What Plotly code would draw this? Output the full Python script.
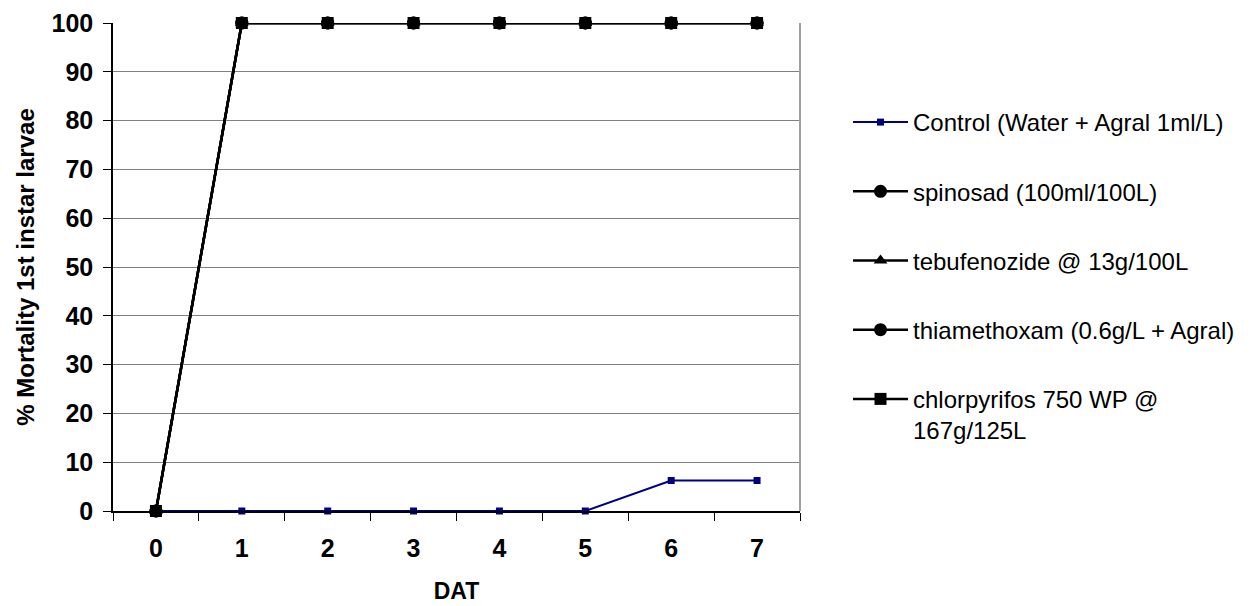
import plotly.graph_objects as go

# Days after treatment
dat = ["0", "1", "2", "3", "4", "5", "6", "7"]

# % mortality of 1st instar larvae per treatment
control = [0, 0, 0, 0, 0, 0, 6.25, 6.25]
spinosad = [0, 100, 100, 100, 100, 100, 100, 100]
tebufenozide = [0, 100, 100, 100, 100, 100, 100, 100]
thiamethoxam = [0, 100, 100, 100, 100, 100, 100, 100]
chlorpyrifos = [0, 100, 100, 100, 100, 100, 100, 100]

names = [
    "Control (Water + Agral 1ml/L)",
    "spinosad (100ml/100L)",
    "tebufenozide @ 13g/100L",
    "thiamethoxam (0.6g/L + Agral)",
    "chlorpyrifos 750 WP @<br>167g/125L",
]

W, H = 1256, 606
L, R, T, B = 113, 800, 23, 511
FONT = "Liberation Sans, Arial, sans-serif"

fig = go.Figure()

series = [
    (control, "#000080", "square", 7, 2),
    (spinosad, "#000000", "circle", 13, 2.5),
    (tebufenozide, "#000000", "triangle-up", 12, 2.5),
    (thiamethoxam, "#000000", "circle", 13, 2.5),
    (chlorpyrifos, "#000000", "square", 12, 2.5),
]

for i, (vals, col, sym, size, lw) in enumerate(series):
    fig.add_trace(go.Scatter(
        x=dat, y=vals, name=names[i], mode="lines+markers",
        line=dict(color=col, width=lw),
        marker=dict(symbol=sym, size=size, color=col, line=dict(width=0)),
        cliponaxis=False, legendgroup=f"g{i}",
    ))

legend_top_px = 100
fig.update_layout(
    width=W, height=H,
    margin=dict(l=L, r=W - R, t=T, b=H - B, autoexpand=False),
    paper_bgcolor="white", plot_bgcolor="white",
    font=dict(family=FONT, color="black"),
    showlegend=True,
    legend=dict(
        x=(848 - L) / (R - L), y=1 - (legend_top_px - T) / (B - T),
        xanchor="left", yanchor="top",
        font=dict(size=24, color="black", family=FONT),
        tracegroupgap=35, valign="top", itemwidth=55,
        bgcolor="rgba(0,0,0,0)",
    ),
    shapes=[
        dict(type="line", xref="paper", yref="paper", x0=1, x1=1, y0=0, y1=1,
             line=dict(color="#a0a0a0", width=2)),
    ],
)

fig.update_xaxes(
    type="category", range=[-0.5, 7.5], automargin=False,
    showline=True, linecolor="black", linewidth=1.5,
    ticks="outside", tickson="boundaries", ticklen=8, tickcolor="black",
    ticklabelstandoff=14,
    tickfont=dict(size=25, family=FONT, color="black", weight="bold"),
    showgrid=False, zeroline=False,
    title=dict(text="<b>DAT</b>", font=dict(size=23, family=FONT), standoff=22),
)

fig.update_yaxes(
    range=[0, 100], dtick=10, automargin=False,
    showline=True, linecolor="black", linewidth=1.5,
    ticks="outside", ticklen=8, tickcolor="black",
    ticklabelstandoff=5,
    tickfont=dict(size=25, family=FONT, color="black", weight="bold"),
    showgrid=True, gridcolor="#808080", gridwidth=1, zeroline=False,
    title=dict(text="<b>% Mortality 1st instar larvae</b>", font=dict(size=24, family=FONT), standoff=10),
)

fig.write_html("out.html")
